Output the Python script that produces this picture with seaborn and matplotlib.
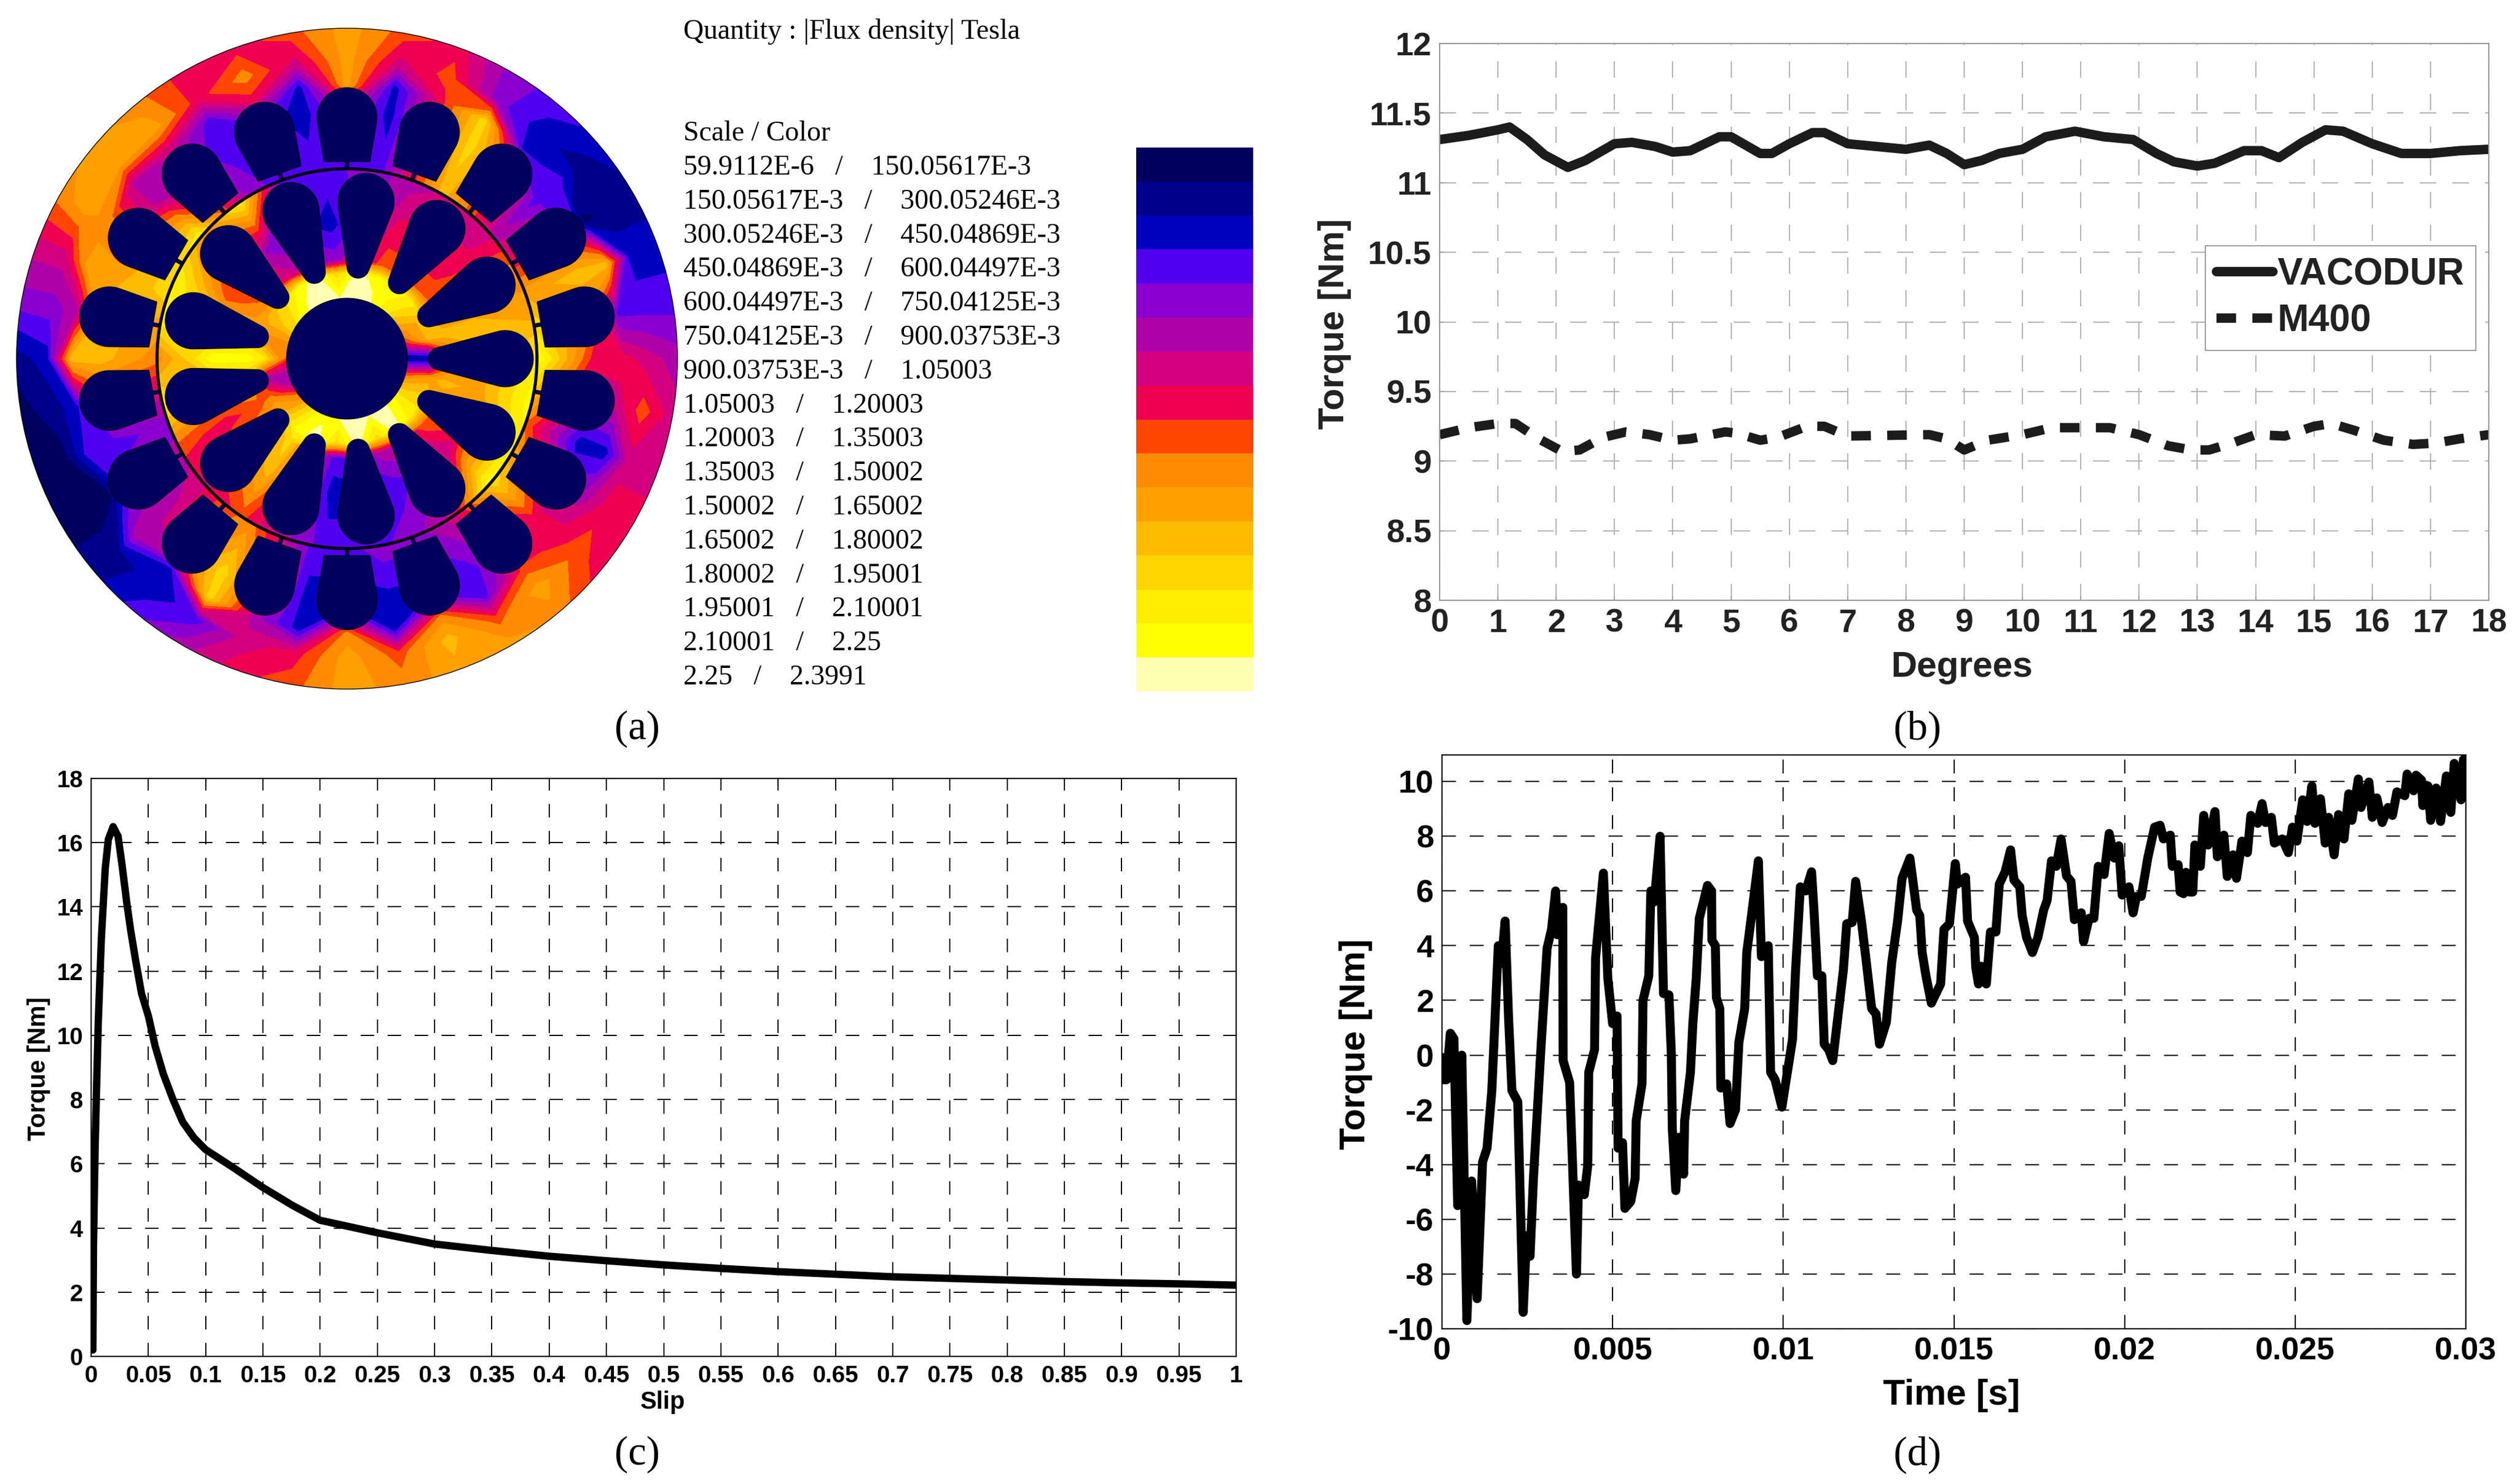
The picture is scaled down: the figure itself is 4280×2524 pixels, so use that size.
import numpy as np
import matplotlib
matplotlib.use("Agg")
import matplotlib.pyplot as plt
from matplotlib.colors import ListedColormap
from matplotlib.patches import Circle, Polygon
import seaborn as sns

# ---------- data ----------
LEVEL_COLORS = ["#00005e", "#00008c", "#0000bf", "#5000ef", "#8a00cf", "#af00aa", "#d20080", "#f00050",
                "#ff4500", "#ff8c00", "#ff9f00", "#ffbb00", "#ffd700", "#ffee00", "#ffff00", "#ffffb0"]
LEGEND_ROWS = ["59.9112E-6   /    150.05617E-3", "150.05617E-3   /    300.05246E-3",
               "300.05246E-3   /    450.04869E-3", "450.04869E-3   /    600.04497E-3",
               "600.04497E-3   /    750.04125E-3", "750.04125E-3   /    900.03753E-3",
               "900.03753E-3   /    1.05003", "1.05003   /    1.20003", "1.20003   /    1.35003",
               "1.35003   /    1.50002", "1.50002   /    1.65002", "1.65002   /    1.80002",
               "1.80002   /    1.95001", "1.95001   /    2.10001", "2.10001   /    2.25", "2.25   /    2.3991"]

# flux level (colour index) around the stator, every 10 degrees counter-clockwise from 3 o'clock
ST_R328 = [14,12,10,7,5,8,11,7,3,3,3,3,4,8,13,12,12,10,9,6,4,5,6,8,9,6,3,3,4,4,5,8,12,10,8,11]
ST_R420 = [7,9,11,7,3,8,12,7,2,5,2,3,3,4,5,8,10,11,11,7,3,4,5,9,12,7,2,2,2,2,3,5,7,4,2,5]
ST_R468 = [7,3,11,0,3,2,12,7,2,10,2,7,3,6,5,9,10,5,11,2,3,0,5,2,12,5,2,9,2,9,3,8,7,5,2,6]
ST_R510 = [6,3,2,1,1,2,4,8,6,10,6,9,7,10,10,10,6,4,2,1,0,0,1,2,3,6,7,10,8,11,8,10,8,7,6,8]
ST_R562 = [5,3,2,1,2,3,4,7,8,10,8,7,7,9,10,9,6,4,1,0,0,0,1,3,5,7,8,10,9,10,10,9,7,7,6,6]
# flux level around the rotor, every 1/26 of a turn
RT_R100 = [1,6,9,11,13,15,15,15,15,15,14,12,9,7,5,5,9,12,14,15,15,15,15,14,11,7]
RT_R145 = [1,11,11,13,14,14,15,12,15,14,12,11,9,13,5,9,11,14,15,12,15,12,15,13,12,10]
RT_R170 = [6,11,9,8,8,8,6,4,5,6,8,9,11,14,10,8,10,12,7,3,4,5,6,8,9,11]
RT_R230 = [10,11,9,7,7,7,4,2,3,4,6,8,11,14,10,7,9,11,6,2,2,3,4,6,8,10]
RT_R322 = [13,10,9,6,6,5,4,3,3,13,9,13,14,9,13,8,6,8,5,3,3,4,6,14,13,14]

B_DEG = [0,.5,1,1.2,1.5,1.8,2.2,2.5,3,3.3,3.7,4,4.3,4.8,5,5.5,5.7,6,6.4,6.6,7,7.5,8,8.4,8.7,9,9.3,9.6,10,10.4,
         10.9,11.4,11.9,12.3,12.6,13,13.3,13.8,14.1,14.4,14.8,15.2,15.5,16,16.5,17,17.5,18]
B_VACODUR = [11.31,11.34,11.38,11.40,11.31,11.2,11.11,11.16,11.28,11.29,11.26,11.22,11.23,11.33,11.33,11.21,11.21,
             11.28,11.36,11.36,11.28,11.26,11.24,11.27,11.21,11.13,11.16,11.21,11.24,11.33,11.37,11.33,11.31,11.21,
             11.15,11.12,11.14,11.23,11.23,11.18,11.29,11.38,11.37,11.28,11.21,11.21,11.23,11.24]
B_DEG2 = [0,.5,1,1.3,1.7,2.1,2.4,2.8,3.2,3.6,4,4.3,4.9,5.1,5.5,5.8,6.3,6.6,7,8.4,8.7,9,9.4,10,10.5,11.5,12,12.5,12.9,
          13.2,13.6,14,14.5,15,15.3,15.7,16.2,16.7,17.1,17.5,18]
B_M400 = [9.19,9.24,9.27,9.27,9.16,9.07,9.08,9.17,9.21,9.19,9.15,9.16,9.21,9.2,9.15,9.17,9.25,9.25,9.18,9.19,9.16,9.08,
          9.15,9.19,9.24,9.24,9.19,9.11,9.08,9.08,9.13,9.19,9.18,9.25,9.27,9.22,9.15,9.12,9.13,9.16,9.19]

C_SLIP = [.0015,.002,.0034,.0046,.0063,.0089,.0123,.015,.0192,.0235,.027,.0312,.0346,.039,.044,.05,.056,.063,.0715,.08,
          .09,.1,.125,.15,.176,.2,.25,.3,.35,.4,.45,.5,.55,.6,.65,.7,.75,.8,.85,.9,.95,1]
C_TORQUE = [.2,3.4,6.4,8.2,10.5,13,15.2,16.1,16.5,16.2,15.3,14.1,13.25,12.3,11.3,10.6,9.65,8.8,8,7.3,6.8,6.44,5.86,5.26,
            4.7,4.24,3.85,3.5,3.3,3.12,2.98,2.85,2.74,2.64,2.56,2.48,2.43,2.38,2.33,2.29,2.26,2.22]

D_MS = [0,.03,.13,.245,.35,.46,.58,.73,.87,1.03,1.19,1.32,1.46,1.65,1.74,1.85,1.95,2.05,2.22,2.38,2.48,2.58,2.68,2.91,
        3.08,3.21,3.33,3.38,3.54,3.55,3.74,3.94,4,4.17,4.27,4.3,4.47,4.5,4.73,4.86,5,5.13,5.16,5.29,5.36,5.53,5.66,5.69,
        5.86,5.89,6.06,6.12,6.22,6.39,6.49,6.65,6.72,6.75,6.85,6.95,7.08,7.11,7.28,7.35,7.45,7.54,7.68,7.78,7.9,7.91,
        8.01,8.04,8.14,8.17,8.34,8.44,8.6,8.7,8.87,8.93,9.07,9.27,9.36,9.56,9.63,9.76,9.96,
        10.27,10.36,10.5,10.66,10.83,10.9,11,11.13,11.2,11.33,11.45,11.6,11.76,11.86,12.02,12.12,12.29,12.42,12.59,12.72,
        12.82,13.02,13.18,13.35,13.48,13.71,13.91,14,14.07,14.18,14.34,14.61,14.71,14.87,15.04,15.1,15.34,15.4,15.6,15.64,
        15.72,15.8,15.95,16.07,16.23,16.33,16.5,16.66,16.76,16.93,17,17.13,17.3,17.46,17.63,17.73,17.86,18,18.14,18.3,
        18.43,18.53,18.73,18.8,18.96,19.1,19.23,19.4,19.55,19.7,19.83,19.93,20.13,
        20.25,20.35,20.49,20.68,20.88,21.04,21.14,21.34,21.4,21.57,21.63,21.73,21.8,21.9,22,22.06,22.22,22.32,22.45,22.65,
        22.72,22.91,23.01,23.18,23.28,23.44,23.6,23.7,23.9,24.03,24.13,24.3,24.39,24.62,24.8,24.92,25.05,25.22,25.35,25.49,
        25.58,25.74,25.88,25.98,26.14,26.27,26.43,26.57,26.66,26.85,26.93,27.16,27.26,27.39,27.55,27.72,27.85,27.98,28.21,
        28.28,28.47,28.54,28.7,28.74,28.89,28.97,29.13,29.26,29.43,29.56,29.66,29.86,29.93,30]
D_TORQUE = [-.08,-.9,-.9,.8,.6,-5.5,0,-9.7,-4.6,-8.9,-3.9,-3.4,-1.3,4,3.35,4.9,1.4,-1.3,-1.7,-9.4,-6.6,-7.35,-4.5,.47,
            3.9,4.6,6,4.4,5.4,-.2,-1,-8,-4.75,-5.1,-4.05,-.63,.2,3.55,6.65,2.8,1.15,1.43,-3.4,-3.2,-5.6,-5.35,-4.5,-2.4,
            -1.05,2,2.9,6,5.6,8,2.25,2.2,.05,-2.7,-4.95,-3,-4.35,-2.4,-.63,1.15,2.8,5,5.7,6.2,6,4.2,
            4,2.1,1.7,-1.2,-1.05,-2.5,-2,.47,1.7,3.75,5.1,7.1,3.6,4,-.63,-.9,-1.9,
            .57,3.07,6.15,6,6.7,5.3,2.9,2.9,.4,.2,-.2,1.4,3.1,4.8,4.85,6.35,4.9,3.55,1.7,1.5,
            .4,1.2,3.4,4.9,6.45,7.2,5.3,5.1,3.75,2.9,1.9,2.6,4.6,4.8,7,6.25,6.5,4.9,4.3,3.2,
            2.6,3.25,2.6,4.5,4.5,6.25,6.7,7.5,6.4,6.15,5.1,4.3,3.75,4.3,5.3,5.65,7.1,6.9,7.9,6.55,
            6.35,4.95,5.2,4.15,5,5,6.9,6.6,8.1,7.2,7.65,5.85,6.15,
            5.2,5.8,5.8,7.2,8.33,8.4,7.9,8.04,6.9,6.96,5.96,5.9,6.68,5.96,5.96,7.68,6.9,8.76,7.68,8.9,
            7.25,8.04,6.53,7.32,6.46,7.82,7.4,8.76,8.47,9.19,8.5,8.69,7.75,7.9,7.4,8.33,7.82,9.33,8.54,9.84,
            8.47,9.37,7.75,8.69,7.32,8.79,7.9,9.55,8.58,10.09,9.05,9.98,8.69,9.4,8.5,9.05,8.76,9.62,9.48,
            10.27,9.66,10.23,10.05,9.12,9.84,8.58,9.76,8.54,10.2,8.87,10.66,9.33,10.8,10.2]

B_YTICKS = [8,8.5,9,9.5,10,10.5,11,11.5,12]
B_YLABELS = ["8","8.5","9","9.5","10","10.5","11","11.5","12"]
C_XTICKS = [round(.05*i,2) for i in range(21)]
C_XLABELS = ["0","0.05","0.1","0.15","0.2","0.25","0.3","0.35","0.4","0.45","0.5","0.55","0.6","0.65","0.7","0.75",
             "0.8","0.85","0.9","0.95","1"]
D_XTICKS = [0,.005,.01,.015,.02,.025,.03]
D_XLABELS = ["0","0.005","0.01","0.015","0.02","0.025","0.03"]

# ---------- setup ----------
W, H = 4280, 2524
sns.set_theme(style="white")
plt.rcParams["font.family"] = ["Liberation Sans", "DejaVu Sans"]
plt.rcParams["lines.scale_dashes"] = False
fig = plt.figure(figsize=(W/100, H/100), dpi=100, facecolor="white")


def px_axes(l, t, r, b):
    return fig.add_axes([l/W, 1-b/H, (r-l)/W, (b-t)/H])


def style_panel(ax, xt, xl, yt, yl, fs, edge, grid, glw, dash, tick_pad):
    ax.set_xticks(xt, xl)
    ax.set_yticks(yt, yl)
    ax.tick_params(axis="both", which="major", direction="in", length=5, width=1.2, color=edge,
                   labelsize=fs, labelcolor=TEXTC, pad=tick_pad, bottom=True, left=True)
    for lab in ax.get_xticklabels() + ax.get_yticklabels():
        lab.set_fontweight("bold")
    ax.grid(True, color=grid, lw=glw, linestyle=(0, dash))
    ax.set_axisbelow(True)
    for s in ax.spines.values():
        s.set_color(edge)
        s.set_linewidth(1.6)


def place_labels(ax, xlabel, xpos, ylabel, ypos, fs):
    ax.set_xlabel(xlabel, fontsize=fs, fontweight="bold", color=TEXTC, va="center", ha="center")
    ax.set_ylabel(ylabel, fontsize=fs, fontweight="bold", color=TEXTC, va="center", ha="center")
    ax.xaxis.set_label_coords(xpos[0]/W, 1-xpos[1]/H, transform=fig.transFigure)
    ax.yaxis.set_label_coords(ypos[0]/W, 1-ypos[1]/H, transform=fig.transFigure)


# ---------- panel a ----------
TEXTC = "#111111"
a = fig.add_axes([0, 0, 1, 1])
a.set_xlim(0, W)
a.set_ylim(H, 0)
a.axis("off")
CX, CY = 590, 610
cmap = ListedColormap(LEVEL_COLORS)
edges = np.arange(-0.5, 16, 1.0)


def field(ring_r, rings, n):
    th = np.deg2rad(np.arange(n+1)*360/n)
    rr, tt = np.meshgrid(ring_r, th, indexing="ij")
    z = np.array([list(v)+[v[0]] for v in rings], dtype=float)
    return CX+rr*np.cos(tt), CY-rr*np.sin(tt), z


X, Y, Z = field([310, 328, 420, 468, 510, 562, 600],
                [ST_R328, ST_R328, ST_R420, ST_R468, ST_R510, ST_R562, ST_R562], 36)
cs = a.contourf(X, Y, Z, levels=edges, colors=LEVEL_COLORS, zorder=1, antialiased=False)
clip = Circle((CX, CY), 562, transform=a.transData)
cs.set_clip_path(clip)
X, Y, Z = field([95, 145, 170, 230, 322, 345],
                [RT_R100, RT_R145, RT_R170, RT_R230, RT_R322, RT_R322], 26)
cs = a.contourf(X, Y, Z, levels=edges, colors=LEVEL_COLORS, zorder=2, antialiased=False)
clip = Circle((CX, CY), 323, transform=a.transData)
cs.set_clip_path(clip)
a.add_patch(Circle((CX, CY), 562, fc="none", ec="black", lw=1, zorder=3))


def place(r, t, deg):
    c, s = np.cos(np.deg2rad(deg)), np.sin(np.deg2rad(deg))
    return np.column_stack([CX+r*c-t*s, CY-(r*s+t*c)])


ang = np.deg2rad(np.linspace(-100, 100, 50))
st_r = np.r_[326, 335, 335, 410+51*np.cos(ang), 335, 335, 326]
st_t = np.r_[-3, -3, -39, 51*np.sin(ang), 39, 3, 3]
for k in range(18):
    a.add_patch(Polygon(place(st_r, st_t, 10+20*k), closed=True, fc=LEVEL_COLORS[0], ec="black", lw=0.8, zorder=4))
phi = 15
ang_o = np.deg2rad(np.linspace(-90-phi, 90+phi, 50))
ang_i = np.deg2rad(np.linspace(90+phi, 270-phi, 30))
rt_r = np.r_[269+48*np.cos(ang_o), 157+19*np.cos(ang_i)]
rt_t = np.r_[48*np.sin(ang_o), 19*np.sin(ang_i)]
for k in range(13):
    a.add_patch(Polygon(place(rt_r, rt_t, 360/13*k), closed=True, fc=LEVEL_COLORS[0], ec="black", lw=0.8, zorder=4))
a.add_patch(Circle((CX, CY), 103, fc=LEVEL_COLORS[0], ec="black", lw=0.6, zorder=4))
a.add_patch(Circle((CX, CY), 323, fc="none", ec="black", lw=3.8, zorder=5))

serif = ["Liberation Serif", "DejaVu Serif"]
a.text(1162, 54, "Quantity : |Flux density| Tesla", family=serif, fontsize=34.4, va="center", color="black")
a.text(1162, 227, "Scale / Color", family=serif, fontsize=34.4, va="center", color="black")
for i, row in enumerate(LEGEND_ROWS):
    a.text(1162, 285+57.8*i, row, family=serif, fontsize=34.4, va="center", color="black")

bar = px_axes(1932, 251, 2131, 1176)
sns.heatmap(np.arange(16).reshape(-1, 1), ax=bar, cmap=cmap, cbar=False, vmin=-0.5, vmax=15.5,
            xticklabels=False, yticklabels=False)

for txt, x, y in [("(a)", 1084, 1240), ("(b)", 3260, 1240), ("(c)", 1084, 2474), ("(d)", 3260, 2474)]:
    a.text(x, y, txt, family=serif, fontsize=50, ha="center", va="center", color="black")

# ---------- panel b ----------
TEXTC = "#222222"
b = px_axes(2448, 74, 4232, 1021)
sns.lineplot(x=B_DEG, y=B_VACODUR, ax=b, color="#1c1c1c", linewidth=11.5, label="VACODUR", errorbar=None, sort=False)
sns.lineplot(x=B_DEG2, y=B_M400, ax=b, color="#1c1c1c", linewidth=11.5, label="M400", errorbar=None, sort=False)
b.lines[0].set_solid_joinstyle("round")
b.lines[1].set_linestyle((0, (24, 20)))
b.lines[1].set_dash_capstyle("butt")
b.set_xlim(0, 18)
b.set_ylim(8, 12)
style_panel(b, list(range(19)), [str(i) for i in range(19)], B_YTICKS, B_YLABELS, 40, "#9a9a9a", "#b4b4b4", 1.5, (20, 20), 10)
place_labels(b, "Degrees", (3337, 1136), "Torque [Nm]", (2269, 551), 44)
leg = b.legend(loc="upper left", bbox_to_anchor=((3750-2448)/1784, 1-(418-74)/947), borderaxespad=0,
               prop={"weight": "bold", "size": 46}, frameon=True, fancybox=False, edgecolor="#9a9a9a", framealpha=1,
               handlelength=1.5, handletextpad=0.12, labelspacing=0.3, borderpad=0.3)
leg.get_frame().set_linewidth(1.4)
for t in leg.get_texts():
    t.set_color("#222222")

# ---------- panel c ----------
TEXTC = "#000000"
c = px_axes(155, 1324, 2102, 2307)
sns.lineplot(x=C_SLIP, y=C_TORQUE, ax=c, color="black", linewidth=9, errorbar=None, sort=False)
c.set_xlim(0, 1)
c.set_ylim(0, 18)
style_panel(c, C_XTICKS, C_XLABELS, list(range(0, 20, 2)), [str(i) for i in range(0, 20, 2)], 29, "black", "black", 1.4, (16.5, 16.5), 10)
place_labels(c, "Slip", (1127, 2385), "Torque [Nm]", (66, 1818), 30)

# ---------- panel d ----------
d = px_axes(2452, 1284, 4193, 2260)
sns.lineplot(x=np.array(D_MS)/1000, y=D_TORQUE, ax=d, color="black", linewidth=11, errorbar=None, sort=False, estimator=None)
d.lines[0].set_solid_joinstyle("round")
d.set_xlim(0, .03)
d.set_ylim(-10, 10.97)
style_panel(d, D_XTICKS, D_XLABELS, list(range(-10, 12, 2)), [str(i) for i in range(-10, 12, 2)], 39, "black", "black", 1.5, (17, 17), 10)
place_labels(d, "Time [s]", (3318, 2373), "Torque [Nm]", (2306, 1776), 44)

fig.savefig("out.png", dpi=100)
